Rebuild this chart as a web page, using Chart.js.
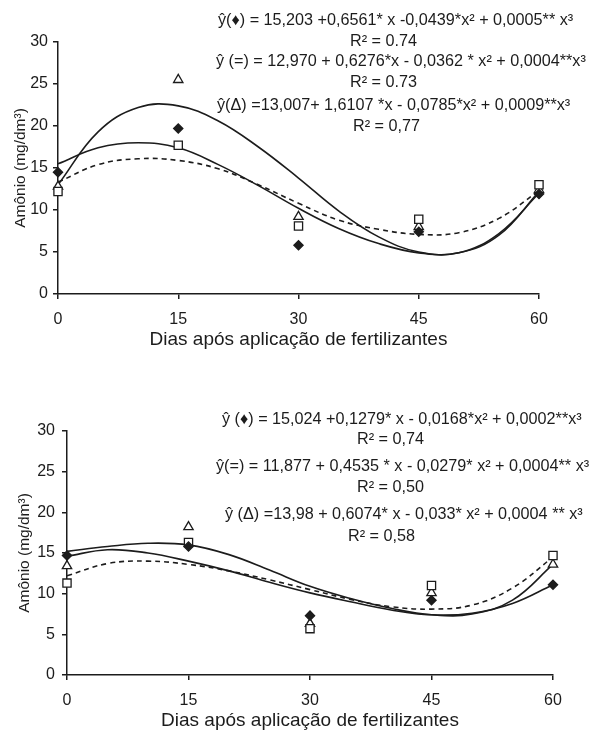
<!DOCTYPE html>
<html>
<head>
<meta charset="utf-8">
<script src="https://cdn.jsdelivr.net/npm/chart.js"></script>
<style>
  html, body { margin: 0; padding: 0; background: #fff; }
  .panel { position: absolute; left: 0; width: 600px; height: 366px; }
</style>
</head>
<body>
<div class="panel" style="top:0"><canvas id="chartTop" width="600" height="366"></canvas></div>
<div class="panel" style="top:366px"><canvas id="chartBottom" width="600" height="366"></canvas></div>
<script>
    // ▼ 측정일 (x축)
    const days = [0, 15, 30, 45, 60];
    const fitDays = [0, 5, 10, 15, 20, 25, 30, 35, 40, 45, 50, 55, 60];
    const yTicks = [0, 5, 10, 15, 20, 25, 30];

    // ▼ 위 그래프 : 관측값
    const topDiamond  = [14.5, 19.7, 5.8, 7.4, 11.9];
    const topSquare   = [12.2, 17.7, 8.1, 8.9, 13.0];
    const topTriangle = [12.8, 25.5, 9.2, 8.0, 12.4];
    // ▼ 위 그래프 : 회귀곡선
    const topFitDiamond  = [15.5, 17.4, 18.0, 17.4, 15.4, 12.9, 10.2, 7.8, 6.0, 4.9, 4.9, 7.2, 12.0];
    const topFitSquare   = [13.3, 15.4, 16.1, 15.9, 14.9, 13.0, 10.8, 8.8, 7.7, 7.1, 7.3, 9.0, 12.3];
    const topFitTriangle = [13.0, 19.3, 22.2, 22.4, 20.6, 17.5, 13.8, 9.9, 6.8, 5.0, 4.9, 7.0, 12.2];
    const topEquations = [
        "ŷ(♦) = 15,203 +0,6561* x -0,0439*x² + 0,0005** x³",
        "R² = 0.74",
        "ŷ (=) = 12,970 + 0,6276*x - 0,0362 * x² + 0,0004**x³",
        "R² = 0.73",
        "ŷ(Δ) =13,007+ 1,6107 *x - 0,0785*x² + 0,0009**x³",
        "R² = 0,77"
    ];

    // ▼ 아래 그래프 : 관측값
    const botDiamond  = [14.7, 15.8, 7.3, 9.2, 11.1];
    const botSquare   = [11.3, 16.3, 5.7, 11.0, 14.7];
    const botTriangle = [13.4, 18.2, 6.3, 10.1, 13.6];
    // ▼ 아래 그래프 : 회귀곡선
    const botFitDiamond  = [14.6, 15.4, 15.0, 14.0, 12.8, 11.4, 10.1, 9.0, 8.0, 7.4, 7.6, 8.8, 11.1];
    const botFitSquare   = [12.2, 13.7, 14.0, 13.6, 12.8, 11.7, 10.5, 9.3, 8.4, 8.1, 8.6, 10.7, 14.5];
    const botFitTriangle = [15.2, 15.8, 16.2, 16.0, 14.8, 12.9, 10.9, 9.4, 8.2, 7.4, 7.5, 9.2, 13.6];
    const botEquations = [
        "ŷ (♦) = 15,024 +0,1279* x - 0,0168*x² + 0,0002**x³",
        "R² = 0,74",
        "ŷ(=) = 11,877 + 0,4535 * x - 0,0279* x² + 0,0004** x³",
        "R² = 0,50",
        "ŷ (Δ) =13,98 + 0,6074* x - 0,033* x² + 0,0004 ** x³",
        "R² = 0,58"
    ];

    const INK = '#1c1c1c';
    const FONT = "'Liberation Sans', Arial, sans-serif";

    // ▼ 수식 텍스트 그리기 플러그인
    const equationPlugin = {
        id: 'equations',
        afterDraw(chart, args, opts) {
            const ctx = chart.ctx;
            ctx.save();
            ctx.fillStyle = INK;
            ctx.font = opts.font;
            ctx.textBaseline = 'middle';
            ctx.textAlign = 'left';
            opts.lines.forEach((text, i) => ctx.fillText(text, opts.xs[i], opts.ys[i]));
            ctx.restore();
        }
    };

    const toXY = (xs, ys) => xs.map((x, i) => ({ x, y: ys[i] }));

    function pointSet(values, style, radius, fill) {
        return {
            data: toXY(days, values),
            showLine: false,
            clip: false,
            pointStyle: style,
            pointRadius: radius,
            pointBackgroundColor: fill,
            pointBorderColor: INK,
            pointBorderWidth: 1.3
        };
    }

    function fitSet(values, dashed) {
        return {
            data: toXY(fitDays, values),
            showLine: true,
            clip: false,
            pointRadius: 0,
            borderColor: INK,
            borderWidth: 1.6,
            borderDash: dashed ? [5, 4] : [],
            tension: 0.4,
            fill: false
        };
    }

    function makeChart(id, cfg) {
        const ctx = document.getElementById(id).getContext('2d');
        return new Chart(ctx, {
            type: 'scatter',
            data: {
                datasets: [
                    pointSet(cfg.diamond, 'rectRot', 4.6, INK),
                    pointSet(cfg.square, 'rect', 5.8, '#fff'),
                    pointSet(cfg.triangle, 'triangle', 5.4, '#fff'),
                    fitSet(cfg.fitDiamond, false),
                    fitSet(cfg.fitTriangle, false),
                    fitSet(cfg.fitSquare, true)
                ]
            },
            options: {
                responsive: false,
                animation: false,
                layout: { padding: { top: cfg.top, right: cfg.right, left: 0, bottom: 0 } },
                plugins: {
                    legend: { display: false },
                    tooltip: { enabled: false },
                    equations: { lines: cfg.equations, xs: cfg.eqX, ys: cfg.eqY, font: '16.2px ' + FONT }
                },
                scales: {
                    x: {
                        type: 'linear', min: 0, max: 60,
                        afterBuildTicks: s => { s.ticks = days.map(v => ({ value: v })); },
                        afterFit: s => { s.height = cfg.xHeight; },
                        grid: { drawOnChartArea: false, tickLength: 5, color: INK, lineWidth: 1.5 },
                        border: { color: INK, width: 1.5 },
                        ticks: { color: INK, padding: 11, font: { size: 16, family: FONT } },
                        title: {
                            display: true, text: 'Dias após aplicação de fertilizantes', color: INK,
                            font: { size: 19, family: FONT }, padding: { top: 0, bottom: cfg.xTitlePad }
                        }
                    },
                    y: {
                        min: 0, max: 30,
                        afterBuildTicks: s => { s.ticks = yTicks.map(v => ({ value: v })); },
                        afterFit: s => { s.width = cfg.left; },
                        grid: { drawOnChartArea: false, tickLength: 5, color: INK, lineWidth: 1.5 },
                        border: { color: INK, width: 1.5 },
                        ticks: { color: INK, padding: cfg.yTickPad, font: { size: 16, family: FONT } },
                        title: {
                            display: true, text: 'Amônio (mg/dm³)', color: INK,
                            font: { size: 15.5, family: FONT }, padding: { top: cfg.yTitlePad, bottom: 0 }
                        }
                    }
                }
            },
            plugins: [equationPlugin]
        });
    }

    makeChart('chartTop', {
        diamond: topDiamond, square: topSquare, triangle: topTriangle,
        fitDiamond: topFitDiamond, fitSquare: topFitSquare, fitTriangle: topFitTriangle,
        equations: topEquations,
        eqX: [218, 350, 216, 350, 217, 353],
        eqY: [21, 42, 62, 83, 106, 127],
        top: 42, right: 61, left: 58, xHeight: 72, xTitlePad: 15, yTickPad: 5, yTitlePad: 11
    });

    makeChart('chartBottom', {
        diamond: botDiamond, square: botSquare, triangle: botTriangle,
        fitDiamond: botFitDiamond, fitSquare: botFitSquare, fitTriangle: botFitTriangle,
        equations: botEquations,
        eqX: [222, 357, 216, 357, 225, 348],
        eqY: [54, 74, 101, 122, 149, 171],
        top: 65, right: 47, left: 67, xHeight: 57, xTitlePad: 0, yTickPad: 7, yTitlePad: 15
    });
</script>
</body>
</html>
